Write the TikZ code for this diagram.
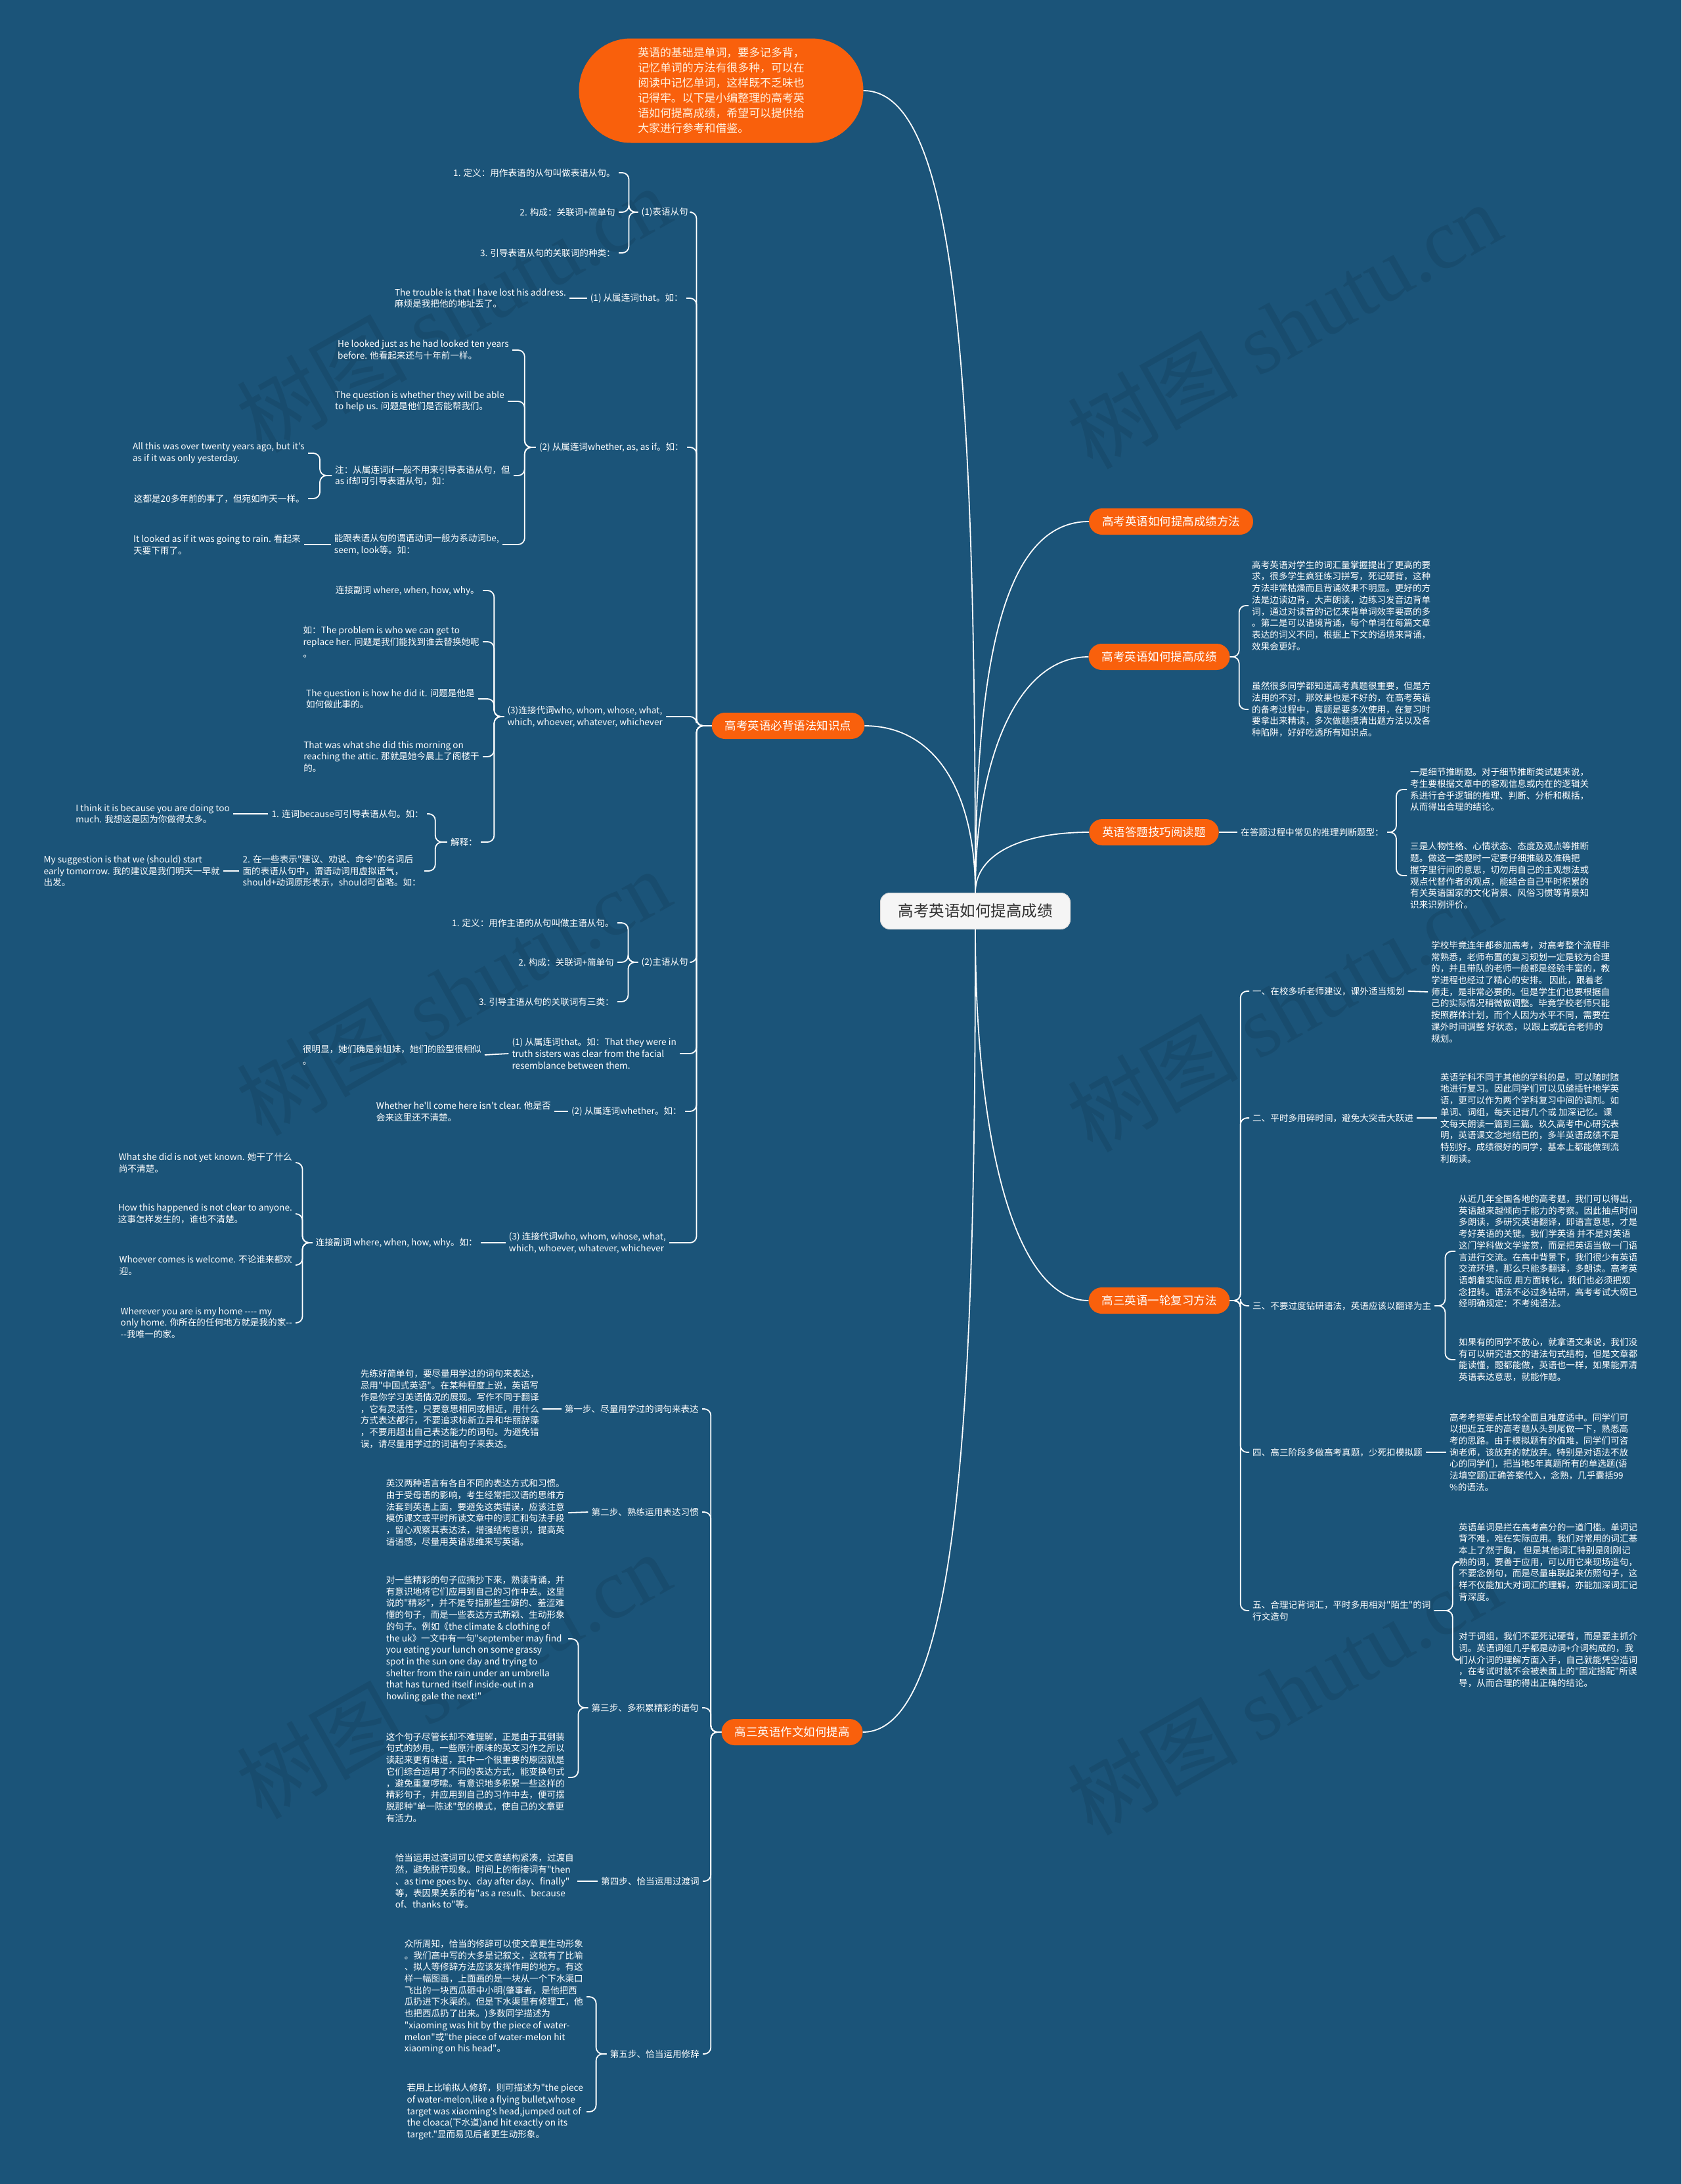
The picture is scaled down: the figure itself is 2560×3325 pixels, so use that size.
\documentclass[tikz,border=0pt]{standalone}
\usepackage{fontspec}
\setmainfont{Noto Sans CJK SC}
\newfontfamily\cjkplain{Noto Sans CJK SC}
\newfontfamily\markfont{Liberation Serif}
\definecolor{bgblue}{HTML}{1B5479}
\definecolor{hubor}{HTML}{F9600C}
\definecolor{rootfill}{HTML}{F5F5F5}
\definecolor{rootline}{HTML}{D6D6D6}
\definecolor{roottext}{HTML}{333333}
\definecolor{introtext}{HTML}{FFF1DF}
\newcommand\leaffont{\cjkplain\fontsize{13.6pt}{17.7pt}\selectfont}
\newcommand\hubfont{\cjkplain\fontsize{17.5pt}{21pt}\selectfont}
\newcommand\rootfont{\cjkplain\fontsize{23.5pt}{28pt}\selectfont}
\newcommand\introfont{\cjkplain\fontsize{16.9pt}{23pt}\selectfont}
\newcommand\wmfont{\cjkplain\fontsize{130pt}{130pt}\selectfont}
\tikzset{
  leaf/.style={text=white, font=\leaffont, align=left, inner xsep=5pt, inner ysep=2pt},
  leafL/.style={leaf, anchor=east},
  leafR/.style={leaf, anchor=west},
  hub/.style={fill=hubor, text=white, font=\hubfont, rounded corners=20pt, minimum height=40pt, inner xsep=20pt},
  link/.style={draw=white, line width=1.8pt, rounded corners=10pt},
  trunk/.style={draw=white, line width=1.8pt},
  wmark/.style={rotate=29.5, font=\wmfont, text=black, text opacity=0.09}
}

\begin{document}
\begin{tikzpicture}[x=1pt,y=-1pt]
\useasboundingbox (0,0) rectangle (2560,3325);
\fill[bgblue] (0,0) rectangle (2560,3325);

\node[wmark] (wm1) at (690,470) {树图 {\markfont shutu.cn}};
\node[wmark] (wm2) at (690,1510) {树图 {\markfont shutu.cn}};
\node[wmark] (wm3) at (690,2550) {树图 {\markfont shutu.cn}};
\node[wmark] (wm4) at (1955,495) {树图 {\markfont shutu.cn}};
\node[wmark] (wm5) at (1955,1535) {树图 {\markfont shutu.cn}};
\node[wmark] (wm6) at (1955,2575) {树图 {\markfont shutu.cn}};

\node[fill=rootfill, draw=rootline, line width=1pt, rounded corners=14pt, text=roottext, font=\rootfont,
  minimum width=289pt, minimum height=55pt] (root) at (1485,1387) {高考英语如何提高成绩};
\node[fill=hubor, text=introtext, font=\introfont, align=left, rounded corners=79pt,
  minimum width=433pt, minimum height=159pt] (intro) at (1098,138)
  {英语的基础是单词，要多记多背，\\记忆单词的方法有很多种，可以在\\阅读中记忆单词，这样既不乏味也\\记得牢。以下是小编整理的高考英\\语如何提高成绩，希望可以提供给\\大家进行参考和借鉴。};

\node[hub] (way) at (1783,794) {高考英语如何提高成绩方法};
\node[hub] (boost) at (1765,1000) {高考英语如何提高成绩};
\node[hub] (read) at (1757,1267) {英语答题技巧阅读题};
\node[hub] (review) at (1765,1980) {高三英语一轮复习方法};
\node[hub] (gram) at (1200,1105) {高考英语必背语法知识点};
\node[hub] (essay) at (1206,2637) {高三英语作文如何提高};

\draw[trunk] (root.north) .. controls +(0,-800) and +(140,0) .. (intro.east);
\draw[trunk] (root.north) .. controls +(0,-150) and +(110,0) .. (gram.east);
\draw[trunk] (root.south) .. controls +(0,700) and +(150,0) .. (essay.east);
\draw[trunk] (root.north) .. controls +(0,-350) and +(-130,0) .. (way.west);
\draw[trunk] (root.north) .. controls +(0,-200) and +(-110,0) .. (boost.west);
\draw[trunk] (root.north) .. controls +(0,-60) and +(-100,0) .. (read.west);
\draw[trunk] (root.south) .. controls +(0,330) and +(-110,0) .. (review.west);

\node[leafR] (boost1) at (1901,922) {高考英语对学生的词汇量掌握提出了更高的要\\求，很多学生疯狂练习拼写，死记硬背，这种\\方法非常枯燥而且背诵效果不明显。更好的方\\法是边读边背，大声朗读，边练习发音边背单\\词，通过对读音的记忆来背单词效率要高的多\\。第二是可以语境背诵，每个单词在每篇文章\\表达的词义不同，根据上下文的语境来背诵，\\效果会更好。};
\node[leafR] (boost2) at (1901,1080) {虽然很多同学都知道高考真题很重要，但是方\\法用的不对，那效果也是不好的，在高考英语\\的备考过程中，真题是要多次使用，在复习时\\要拿出来精读，多次做题摸清出题方法以及各\\种陷阱，好好吃透所有知识点。};
\draw[link] (boost.east) -- ++(14,0) |- (boost1.west);
\draw[link] (boost.east) -- ++(14,0) |- (boost2.west);

\node[leafR] (read0) at (1884,1267) {在答题过程中常见的推理判断题型：};
\node[leafR] (read1) at (2142,1202) {一是细节推断题。对于细节推断类试题来说，\\考生要根据文章中的客观信息或内在的逻辑关\\系进行合乎逻辑的推理、判断、分析和概括，\\从而得出合理的结论。};
\node[leafR] (read2) at (2142,1333) {三是人物性格、心情状态、态度及观点等推断\\题。做这一类题时一定要仔细推敲及准确把\\握字里行间的意思，切勿用自己的主观想法或\\观点代替作者的观点，能结合自己平时积累的\\有关英语国家的文化背景、风俗习惯等背景知\\识来识别评价。};
\draw[link] (read.east) -- (read0.west);
\draw[link] (read0.east) -- ++(14,0) |- (read1.west);
\draw[link] (read0.east) -- ++(14,0) |- (read2.west);

\node[leafR] (rev1) at (1902,1509) {一、在校多听老师建议，课外适当规划};
\node[leafR] (rev1a) at (2174,1510) {学校毕竟连年都参加高考，对高考整个流程非\\常熟悉，老师布置的复习规划一定是较为合理\\的，并且带队的老师一般都是经验丰富的，教\\学进程也经过了精心的安排。 因此，跟着老\\师走，是非常必要的。但是学生们也要根据自\\己的实际情况稍微做调整。毕竟学校老师只能\\按照群体计划，而个人因为水平不同，需要在\\课外时间调整 好状态，以跟上或配合老师的\\规划。};
\node[leafR] (rev2) at (1902,1702) {二、平时多用碎时间，避免大突击大跃进};
\node[leafR] (rev2a) at (2188,1702) {英语学科不同于其他的学科的是，可以随时随\\地进行复习。因此同学们可以见缝插针地学英\\语，更可以作为两个学科复习中间的调剂。如\\单词、词组，每天记背几个或 加深记忆。课\\文每天朗读一篇到三篇。玖久高考中心研究表\\明，英语课文念地结巴的，多半英语成绩不是\\特别好。成绩很好的同学，基本上都能做到流\\利朗读。};
\node[leafR] (rev3) at (1902,1988) {三、不要过度钻研语法，英语应该以翻译为主};
\node[leafR] (rev3a) at (2216,1905) {从近几年全国各地的高考题，我们可以得出，\\英语越来越倾向于能力的考察。因此抽点时间\\多朗读，多研究英语翻译，即语言意思，才是\\考好英语的关键。我们学英语 并不是对英语\\这门学科做文学鉴赏，而是把英语当做一门语\\言进行交流。在高中背景下，我们很少有英语\\交流环境，那么只能多翻译，多朗读。高考英\\语朝着实际应 用方面转化，我们也必须把观\\念扭转。语法不必过多钻研，高考考试大纲已\\经明确规定：不考纯语法。};
\node[leafR] (rev3b) at (2216,2070) {如果有的同学不放心，就拿语文来说，我们没\\有可以研究语文的语法句式结构，但是文章都\\能读懂，题都能做，英语也一样，如果能弄清\\英语表达意思，就能作题。};
\node[leafR] (rev4) at (1902,2211) {四、高三阶段多做高考真题，少死扣模拟题};
\node[leafR] (rev4a) at (2202,2211) {高考考察要点比较全面且难度适中。同学们可\\以把近五年的高考题从头到尾做一下，熟悉高\\考的思路。由于模拟题有的偏难，同学们可咨\\询老师，该放弃的就放弃。特别是对语法不放\\心的同学们，把当地5年真题所有的单选题(语\\法填空题)正确答案代入，念熟，几乎囊括99\\\%的语法。};
\node[leafR] (rev5) at (1902,2452) {五、合理记背词汇，平时多用相对"陌生"的词\\行文造句};
\node[leafR] (rev5a) at (2216,2378) {英语单词是拦在高考高分的一道门槛。单词记\\背不难，难在实际应用。我们对常用的词汇基\\本上了然于胸， 但是其他词汇特别是刚刚记\\熟的词，要善于应用，可以用它来现场造句，\\不要念例句，而是尽量串联起来仿照句子，这\\样不仅能加大对词汇的理解，亦能加深词汇记\\背深度。};
\node[leafR] (rev5b) at (2216,2527) {对于词组，我们不要死记硬背，而是要主抓介\\词。英语词组几乎都是动词+介词构成的，我\\们从介词的理解方面入手，自己就能凭空造词\\，在考试时就不会被表面上的"固定搭配"所误\\导，从而合理的得出正确的结论。};
\draw[link] (review.east) -- ++(16,0) |- (rev1.west);
\draw[link] (review.east) -- ++(16,0) |- (rev2.west);
\draw[link] (review.east) -- ++(16,0) |- (rev3.west);
\draw[link] (review.east) -- ++(16,0) |- (rev4.west);
\draw[link] (review.east) -- ++(16,0) |- (rev5.west);
\draw[link] (rev1.east) -- (rev1a.west);
\draw[link] (rev2.east) -- (rev2a.west);
\draw[link] (rev3.east) -- ++(16,0) |- (rev3a.west);
\draw[link] (rev3.east) -- ++(16,0) |- (rev3b.west);
\draw[link] (rev4.east) -- (rev4a.west);
\draw[link] (rev5.east) -- ++(28,0) |- (rev5a.west);
\draw[link] (rev5.east) -- ++(28,0) |- (rev5b.west);

\node[leafL] (predc) at (1053,323) {(1)表语从句};
\node[leafL] (predc1) at (942,263) {1. 定义：用作表语的从句叫做表语从句。};
\node[leafL] (predc2) at (942,323) {2. 构成：关联词+简单句};
\node[leafL] (predc3) at (942,385) {3. 引导表语从句的关联词的种类：};
\node[leafL] (gthat) at (1045,454) {(1) 从属连词that。如：};
\node[leafL] (gthat1) at (867,454) {The trouble is that I have lost his address.\\麻烦是我把他的地址丢了。};
\node[leafL] (gwhether) at (1046,681) {(2) 从属连词whether, as, as if。如：};
\node[leafL] (gwhether1) at (780,533) {He looked just as he had looked ten years\\before. 他看起来还与十年前一样。};
\node[leafL] (gwhether2) at (773,611) {The question is whether they will be able\\to help us. 问题是他们是否能帮我们。};
\node[leafL] (gwhether3) at (782,724) {注：从属连词if一般不用来引导表语从句，但\\as if却可引导表语从句，如：};
\node[leafL] (gwhether3a) at (469,690) {All this was over twenty years ago, but it's\\as if it was only yesterday.};
\node[leafL] (gwhether3b) at (469,759) {这都是20多年前的事了，但宛如昨天一样。};
\node[leafL] (gwhether4) at (765,829) {能跟表语从句的谓语动词一般为系动词be,\\seem, look等。如：};
\node[leafL] (gwhether4a) at (463,829) {It looked as if it was going to rain. 看起来\\天要下雨了。};
\node[leafL] (gpron) at (1014,1091) {(3)连接代词who, whom, whose, what,\\which, whoever, whatever, whichever};
\node[leafL] (gpron1) at (735,899) {连接副词 where, when, how, why。};
\node[leafL] (gpron2) at (735,977) {如：The problem is who we can get to\\replace her. 问题是我们能找到谁去替换她呢\\。};
\node[leafL] (gpron3) at (728,1064) {The question is how he did it. 问题是他是\\如何做此事的。};
\node[leafL] (gpron4) at (735,1152) {That was what she did this morning on\\reaching the attic. 那就是她今晨上了阁楼干\\的。};
\node[leafL] (gpron5) at (732,1282) {解释：};
\node[leafL] (gpron5a) at (650,1239) {1. 连词because可引导表语从句。如：};
\node[leafL] (gpron5a1) at (355,1239) {I think it is because you are doing too\\much. 我想这是因为你做得太多。};
\node[leafL] (gpron5b) at (646,1326) {2. 在一些表示"建议、劝说、命令"的名词后\\面的表语从句中，谓语动词用虚拟语气，\\should+动词原形表示，should可省略。如：};
\node[leafL] (gpron5b1) at (340,1326) {My suggestion is that we (should) start\\early tomorrow. 我的建议是我们明天一早就\\出发。};
\node[leafL] (subjc) at (1053,1465) {(2)主语从句};
\node[leafL] (subjc1) at (940,1405) {1. 定义：用作主语的从句叫做主语从句。};
\node[leafL] (subjc2) at (940,1465) {2. 构成：关联词+简单句};
\node[leafL] (subjc3) at (940,1525) {3. 引导主语从句的关联词有三类：};
\node[leafL] (sthat) at (1035,1604) {(1) 从属连词that。如：That they were in\\truth sisters was clear from the facial\\resemblance between them.};
\node[leafL] (sthat1) at (738,1606) {很明显，她们确是亲姐妹，她们的脸型很相似\\。};
\node[leafL] (swhether) at (1043,1692) {(2) 从属连词whether。如：};
\node[leafL] (swhether1) at (844,1692) {Whether he'll come here isn't clear. 他是否\\会来这里还不清楚。};
\node[leafL] (spron) at (1019,1892) {(3) 连接代词who, whom, whose, what,\\which, whoever, whatever, whichever};
\node[leafL] (spron1) at (732,1892) {连接副词 where, when, how, why。如：};
\node[leafL] (spron1a) at (450,1770) {What she did is not yet known. 她干了什么\\尚不清楚。};
\node[leafL] (spron1b) at (450,1848) {How this happened is not clear to anyone.\\这事怎样发生的，谁也不清楚。};
\node[leafL] (spron1c) at (450,1926) {Whoever comes is welcome. 不论谁来都欢\\迎。};
\node[leafL] (spron1d) at (450,2014) {Wherever you are is my home ---- my\\only home. 你所在的任何地方就是我的家--\\--我唯一的家。};

\draw[link] (gram.west) -- ++(-23,0) |- (predc.east);
\draw[link] (gram.west) -- ++(-23,0) |- (gthat.east);
\draw[link] (gram.west) -- ++(-23,0) |- (gwhether.east);
\draw[link] (gram.west) -- ++(-23,0) |- (gpron.east);
\draw[link] (gram.west) -- ++(-23,0) |- (subjc.east);
\draw[link] (gram.west) -- ++(-23,0) |- (sthat.east);
\draw[link] (gram.west) -- ++(-23,0) |- (swhether.east);
\draw[link] (gram.west) -- ++(-23,0) |- (spron.east);
\draw[link] (predc.west) -- ++(-14,0) |- (predc1.east);
\draw[link] (predc.west) -- ++(-14,0) |- (predc2.east);
\draw[link] (predc.west) -- ++(-14,0) |- (predc3.east);
\draw[link] (gthat.west) -- (gthat1.east);
\draw[link] (gwhether.west) -- ++(-17,0) |- (gwhether1.east);
\draw[link] (gwhether.west) -- ++(-17,0) |- (gwhether2.east);
\draw[link] (gwhether.west) -- ++(-17,0) |- (gwhether3.east);
\draw[link] (gwhether.west) -- ++(-17,0) |- (gwhether4.east);
\draw[link] (gwhether3.west) -- ++(-18,0) |- (gwhether3a.east);
\draw[link] (gwhether3.west) -- ++(-18,0) |- (gwhether3b.east);
\draw[link] (gwhether4.west) -- (gwhether4a.east);
\draw[link] (gpron.west) -- ++(-15,0) |- (gpron1.east);
\draw[link] (gpron.west) -- ++(-15,0) |- (gpron2.east);
\draw[link] (gpron.west) -- ++(-15,0) |- (gpron3.east);
\draw[link] (gpron.west) -- ++(-15,0) |- (gpron4.east);
\draw[link] (gpron.west) -- ++(-15,0) |- (gpron5.east);
\draw[link] (gpron5.west) -- ++(-18,0) |- (gpron5a.east);
\draw[link] (gpron5.west) -- ++(-18,0) |- (gpron5b.east);
\draw[link] (gpron5a.west) -- (gpron5a1.east);
\draw[link] (gpron5b.west) -- (gpron5b1.east);
\draw[link] (subjc.west) -- ++(-15,0) |- (subjc1.east);
\draw[link] (subjc.west) -- ++(-15,0) |- (subjc2.east);
\draw[link] (subjc.west) -- ++(-15,0) |- (subjc3.east);
\draw[link] (sthat.west) -- (sthat1.east);
\draw[link] (swhether.west) -- (swhether1.east);
\draw[link] (spron.west) -- (spron1.east);
\draw[link] (spron1.west) -- ++(-15,0) |- (spron1a.east);
\draw[link] (spron1.west) -- ++(-15,0) |- (spron1b.east);
\draw[link] (spron1.west) -- ++(-15,0) |- (spron1c.east);
\draw[link] (spron1.west) -- ++(-15,0) |- (spron1d.east);

\node[leafL] (step1) at (1069,2145) {第一步、尽量用学过的词句来表达};
\node[leafL] (step1a) at (826,2145) {先练好简单句，要尽量用学过的词句来表达，\\忌用"中国式英语"。在某种程度上说，英语写\\作是你学习英语情况的展现。写作不同于翻译\\，它有灵活性，只要意思相同或相近，用什么\\方式表达都行，不要追求标新立异和华丽辞藻\\，不要用超出自己表达能力的词句。为避免错\\误，请尽量用学过的词语句子来表达。};
\node[leafL] (step2) at (1069,2302) {第二步、熟练运用表达习惯};
\node[leafL] (step2a) at (865,2303) {英汉两种语言有各自不同的表达方式和习惯。\\由于受母语的影响，考生经常把汉语的思维方\\法套到英语上面，要避免这类错误，应该注意\\模仿课文或平时所读文章中的词汇和句法手段\\，留心观察其表达法，增强结构意识，提高英\\语语感，尽量用英语思维来写英语。};
\node[leafL] (step3) at (1069,2600) {第三步、多积累精彩的语句};
\node[leafL] (step3a) at (865,2495) {对一些精彩的句子应摘抄下来，熟读背诵，并\\有意识地将它们应用到自己的习作中去。这里\\说的"精彩"，并不是专指那些生僻的、羞涩难\\懂的句子，而是一些表达方式新颖、生动形象\\的句子。例如《the climate \& clothing of\\the uk》一文中有一句"september may find\\you eating your lunch on some grassy\\spot in the sun one day and trying to\\shelter from the rain under an umbrella\\that has turned itself inside-out in a\\howling gale the next!"};
\node[leafL] (step3b) at (865,2706) {这个句子尽管长却不难理解，正是由于其倒装\\句式的妙用。一些原汁原味的英文习作之所以\\读起来更有味道，其中一个很重要的原因就是\\它们综合运用了不同的表达方式，能变换句式\\，避免重复啰嗦。有意识地多积累一些这样的\\精彩句子，并应用到自己的习作中去，便可摆\\脱那种"单一陈述"型的模式，使自己的文章更\\有活力。};
\node[leafL] (step4) at (1070,2864) {第四步、恰当运用过渡词};
\node[leafL] (step4a) at (879,2864) {恰当运用过渡词可以使文章结构紧凑，过渡自\\然，避免脱节现象。时间上的衔接词有"then\\、as time goes by、day after day、finally"\\等，表因果关系的有"as a result、because\\of、thanks to"等。};
\node[leafL] (step5) at (1070,3127) {第五步、恰当运用修辞};
\node[leafL] (step5a) at (893,3040) {众所周知，恰当的修辞可以使文章更生动形象\\。我们高中写的大多是记叙文，这就有了比喻\\、拟人等修辞方法应该发挥作用的地方。有这\\样一幅图画，上面画的是一块从一个下水渠口\\飞出的一块西瓜砸中小明(肇事者，是他把西\\瓜扔进下水渠的。但是下水渠里有修理工，他\\也把西瓜扔了出来。)多数同学描述为\\"xiaoming was hit by the piece of water-\\melon"或"the piece of water-melon hit\\xiaoming on his head"。};
\node[leafL] (step5b) at (893,3215) {若用上比喻拟人修辞，则可描述为"the piece\\of water-melon,like a flying bullet,whose\\target was xiaoming's head,jumped out of\\the cloaca(下水道)and hit exactly on its\\target."显而易见后者更生动形象。};

\draw[link] (essay.west) -- ++(-16,0) |- (step1.east);
\draw[link] (essay.west) -- ++(-16,0) |- (step2.east);
\draw[link] (essay.west) -- ++(-16,0) |- (step3.east);
\draw[link] (essay.west) -- ++(-16,0) |- (step4.east);
\draw[link] (essay.west) -- ++(-16,0) |- (step5.east);
\draw[link] (step1.west) -- (step1a.east);
\draw[link] (step2.west) -- (step2a.east);
\draw[link] (step3.west) -- ++(-15,0) |- (step3a.east);
\draw[link] (step3.west) -- ++(-15,0) |- (step3b.east);
\draw[link] (step4.west) -- (step4a.east);
\draw[link] (step5.west) -- ++(-16,0) |- (step5a.east);
\draw[link] (step5.west) -- ++(-16,0) |- (step5b.east);
\end{tikzpicture}
\end{document}
